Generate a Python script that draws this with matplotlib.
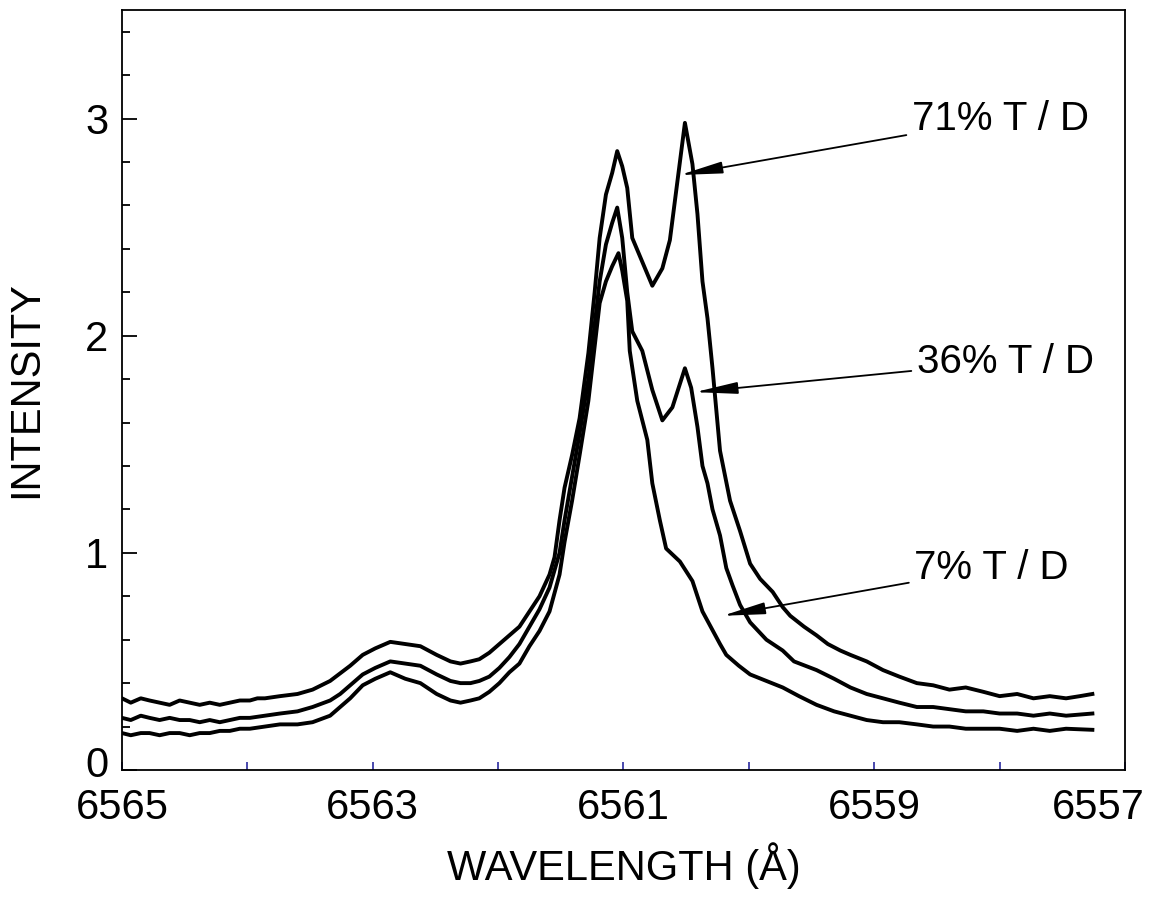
import matplotlib
matplotlib.use("Agg")
import matplotlib.pyplot as plt
from matplotlib.ticker import FixedLocator, MultipleLocator
from matplotlib.transforms import ScaledTranslation

plt.rcParams['font.family'] = ['Liberation Sans', 'DejaVu Sans']

# 71% T/D (top trace)
wl_71 = [6565.00, 6564.93, 6564.85, 6564.78, 6564.70, 6564.62, 6564.54, 6564.46,
         6564.38, 6564.30, 6564.22, 6564.14, 6564.06, 6563.98, 6563.92,
         6563.86, 6563.74, 6563.60, 6563.48, 6563.34, 6563.18, 6563.08, 6562.98,
         6562.86, 6562.74, 6562.62, 6562.49, 6562.38, 6562.30, 6562.22, 6562.15,
         6562.07, 6561.99, 6561.91, 6561.83, 6561.75, 6561.67, 6561.59, 6561.55,
         6561.51, 6561.47, 6561.41, 6561.35, 6561.28, 6561.23, 6561.19, 6561.14,
         6561.09, 6561.05, 6561.01, 6560.97, 6560.93, 6560.85, 6560.77, 6560.69,
         6560.63, 6560.57, 6560.51, 6560.45, 6560.41, 6560.37, 6560.33, 6560.29,
         6560.23, 6560.15, 6560.07, 6559.99, 6559.91, 6559.81, 6559.73, 6559.67,
         6559.56, 6559.46, 6559.37, 6559.27, 6559.19, 6559.06, 6558.93, 6558.80,
         6558.66, 6558.53, 6558.40, 6558.27, 6558.13, 6558.00, 6557.86, 6557.73,
         6557.60, 6557.47, 6557.36, 6557.26]
int_71 = [0.33, 0.31, 0.33, 0.32, 0.31, 0.30, 0.32, 0.31,
          0.30, 0.31, 0.30, 0.31, 0.32, 0.32, 0.33,
          0.33, 0.34, 0.35, 0.37, 0.41, 0.48, 0.53, 0.56,
          0.59, 0.58, 0.57, 0.53, 0.50, 0.49, 0.50, 0.51,
          0.54, 0.58, 0.62, 0.66, 0.73, 0.80, 0.90, 0.98,
          1.15, 1.30, 1.45, 1.62, 1.92, 2.20, 2.45, 2.65,
          2.75, 2.85, 2.78, 2.68, 2.45, 2.34, 2.23, 2.31,
          2.44, 2.71, 2.98, 2.79, 2.56, 2.25, 2.08, 1.85,
          1.47, 1.24, 1.10, 0.95, 0.88, 0.82, 0.75, 0.71,
          0.66, 0.62, 0.58, 0.55, 0.53, 0.50, 0.46, 0.43,
          0.40, 0.39, 0.37, 0.38, 0.36, 0.34, 0.35, 0.33,
          0.34, 0.33, 0.34, 0.35]

# 36% T/D (middle trace)
wl_36 = [6565.00, 6564.93, 6564.85, 6564.78, 6564.70, 6564.62, 6564.54, 6564.46,
         6564.38, 6564.30, 6564.22, 6564.14, 6564.06, 6563.98,
         6563.86, 6563.74, 6563.60, 6563.48, 6563.34, 6563.26, 6563.18, 6563.08,
         6562.98, 6562.86, 6562.74, 6562.62, 6562.49, 6562.38, 6562.30, 6562.22,
         6562.15, 6562.07, 6561.99, 6561.91, 6561.83, 6561.75, 6561.67, 6561.59,
         6561.51, 6561.47, 6561.41, 6561.35, 6561.28, 6561.23, 6561.19, 6561.14,
         6561.09, 6561.05, 6561.01, 6560.97, 6560.93, 6560.85, 6560.77, 6560.69,
         6560.61, 6560.51, 6560.46, 6560.41, 6560.37, 6560.33, 6560.29, 6560.23,
         6560.18, 6560.13, 6560.07, 6559.99, 6559.86, 6559.73, 6559.64, 6559.46,
         6559.32, 6559.19, 6559.06, 6558.93, 6558.80, 6558.66, 6558.53, 6558.40,
         6558.27, 6558.13, 6558.00, 6557.86, 6557.73, 6557.60, 6557.47, 6557.26]
int_36 = [0.24, 0.23, 0.25, 0.24, 0.23, 0.24, 0.23, 0.23,
          0.22, 0.23, 0.22, 0.23, 0.24, 0.24,
          0.25, 0.26, 0.27, 0.29, 0.32, 0.35, 0.39, 0.44,
          0.47, 0.50, 0.49, 0.48, 0.44, 0.41, 0.40, 0.40,
          0.41, 0.43, 0.47, 0.52, 0.58, 0.66, 0.74, 0.84,
          1.00, 1.15, 1.35, 1.55, 1.80, 2.05, 2.25, 2.42,
          2.52, 2.59, 2.45, 2.20, 2.02, 1.93, 1.75, 1.61,
          1.67, 1.85, 1.76, 1.58, 1.40, 1.32, 1.20, 1.08,
          0.93, 0.85, 0.76, 0.68, 0.60, 0.55, 0.50, 0.46,
          0.42, 0.38, 0.35, 0.33, 0.31, 0.29, 0.29, 0.28,
          0.27, 0.27, 0.26, 0.26, 0.25, 0.26, 0.25, 0.26]

# 7% T/D (bottom trace)
wl_7 = [6565.00, 6564.93, 6564.85, 6564.78, 6564.70, 6564.62, 6564.54, 6564.46,
        6564.38, 6564.30, 6564.22, 6564.14, 6564.06, 6563.98,
        6563.86, 6563.74, 6563.60, 6563.48, 6563.34, 6563.26, 6563.18, 6563.08,
        6562.98, 6562.86, 6562.74, 6562.62, 6562.49, 6562.38, 6562.30, 6562.22,
        6562.15, 6562.07, 6561.99, 6561.91, 6561.83, 6561.75, 6561.67, 6561.59,
        6561.51, 6561.47, 6561.41, 6561.35, 6561.28, 6561.23, 6561.19, 6561.14,
        6561.09, 6561.04, 6561.01, 6560.97, 6560.95, 6560.89, 6560.81, 6560.77,
        6560.71, 6560.66, 6560.55, 6560.45, 6560.37, 6560.23, 6560.18, 6560.08,
        6559.99, 6559.86, 6559.73, 6559.60, 6559.46, 6559.32, 6559.19, 6559.06,
        6558.93, 6558.80, 6558.66, 6558.53, 6558.40, 6558.27, 6558.13, 6558.00,
        6557.86, 6557.73, 6557.60, 6557.47, 6557.26]
int_7 = [0.17, 0.16, 0.17, 0.17, 0.16, 0.17, 0.17, 0.16,
         0.17, 0.17, 0.18, 0.18, 0.19, 0.19,
         0.20, 0.21, 0.21, 0.22, 0.25, 0.29, 0.33, 0.39,
         0.42, 0.45, 0.42, 0.40, 0.35, 0.32, 0.31, 0.32,
         0.33, 0.36, 0.40, 0.45, 0.49, 0.57, 0.64, 0.73,
         0.90, 1.05, 1.24, 1.45, 1.70, 1.95, 2.15, 2.25,
         2.32, 2.38, 2.30, 2.16, 1.93, 1.70, 1.52, 1.32,
         1.15, 1.02, 0.96, 0.87, 0.73, 0.58, 0.53, 0.48,
         0.44, 0.41, 0.38, 0.34, 0.30, 0.27, 0.25, 0.23,
         0.22, 0.22, 0.21, 0.20, 0.20, 0.19, 0.19, 0.19,
         0.18, 0.19, 0.18, 0.19, 0.185]

labels = ["71% T / D", "36% T / D", "7% T / D"]
label_pos = [(6558.70, 3.00), (6558.66, 1.88), (6558.68, 0.93)]
arrow_tips = [(6560.55, 2.74), (6560.43, 1.74), (6560.21, 0.71)]

x_major = [6565, 6563, 6561, 6559, 6557]
x_minor = [6564, 6562, 6560, 6558]
y_major = [0, 1, 2, 3]

fig = plt.figure(figsize=(11.53, 8.97), dpi=100)
ax = fig.add_axes([0.1058, 0.1416, 0.8699, 0.8473])

for wl, inten in [(wl_71, int_71), (wl_36, int_36), (wl_7, int_7)]:
    ax.plot(wl, inten, color='black', lw=2.8)

for txt, pos, tip in zip(labels, label_pos, arrow_tips):
    ax.annotate(txt, xy=tip, xytext=pos, fontsize=29, ha='left', va='center',
                arrowprops=dict(arrowstyle='-|>,head_length=1.3,head_width=0.18',
                                color='black', lw=1.3, mutation_scale=20,
                                shrinkA=2, shrinkB=0))

ax.set_xlim(6565, 6557)
ax.set_ylim(0, 3.5)
ax.xaxis.set_major_locator(FixedLocator(x_major))
ax.xaxis.set_minor_locator(FixedLocator(x_minor))
ax.yaxis.set_major_locator(FixedLocator(y_major))
ax.yaxis.set_minor_locator(MultipleLocator(0.2))

ax.tick_params(axis='x', which='both', direction='in', length=6, width=1.2,
               color='#2a2aa0', labelsize=30, pad=13, top=False)
ax.tick_params(axis='y', which='major', direction='in', length=11, width=1.3,
               labelsize=30, pad=10, right=False)
ax.tick_params(axis='y', which='minor', direction='in', length=6, width=1.3, right=False)

for sp in ax.spines.values():
    sp.set_linewidth(1.3)

# nudge edge labels like the original: last x label pulled in, "0" lifted
last = ax.xaxis.get_major_ticks()[-1].label1
last.set_transform(last.get_transform() + ScaledTranslation(-0.27, 0, fig.dpi_scale_trans))
zero = ax.yaxis.get_major_ticks()[0].label1
zero.set_transform(zero.get_transform() + ScaledTranslation(0, 0.08, fig.dpi_scale_trans))

ax.set_xlabel("WAVELENGTH (Å)", fontsize=30, labelpad=10)
ax.set_ylabel("INTENSITY", fontsize=30, labelpad=28)

fig.savefig("out.png", dpi=100)
